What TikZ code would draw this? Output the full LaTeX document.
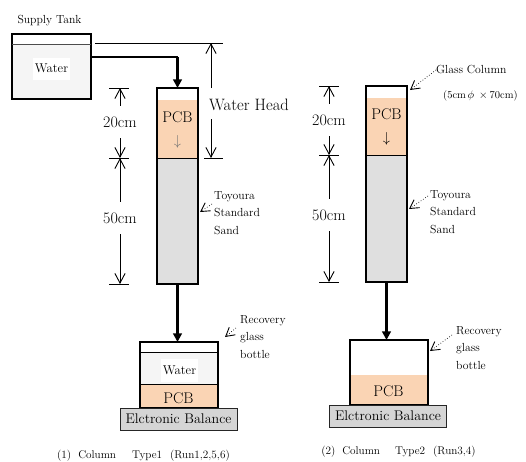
\documentclass[tikz,border=0pt]{standalone}
\usepackage{amsmath,amssymb}
\usepackage{tikz}
\usetikzlibrary{arrows.meta}
\definecolor{pcbfill}{HTML}{FAD4B4}
\newcommand{\fsize}[2]{\fontsize{#1}{#2}\selectfont}

\begin{document}
\begin{tikzpicture}[x=1pt,y=-1pt,
  wall/.style={draw, line width=2pt, inner sep=0pt, outer sep=0pt},
  fillbox/.style={inner sep=0pt, outer sep=0pt},
  bal/.style={draw=black!85, fill=gray!33, line width=0.9pt, inner sep=0pt, outer sep=0pt, minimum width=117pt, minimum height=22pt, font=\fsize{14}{15}},
  big/.style={font=\fsize{15.5}{16}, inner sep=1pt},
  dim/.style={font=\fsize{16}{17}, inner sep=0pt, minimum height=32pt},
  note/.style={font=\fsize{11.7}{17.5}, inner sep=0pt, align=left, anchor=west},
  small/.style={font=\fsize{12.7}{13}},
  pipe/.style={-{Triangle[length=3mm,width=3mm]}, line width=2.2pt},
  arr/.style={-{Straight Barb[length=3.4mm,width=3.6mm]}, line width=0.9pt},
  lead/.style={-{Straight Barb[length=3mm,width=3.4mm,line width=0.9pt]}, dotted, line width=0.7pt},
  tick/.style={line width=0.8pt}]
\useasboundingbox (0,0) rectangle (526,461);
% supply tank
\node[fillbox, fill=gray!8, minimum width=79pt, minimum height=55pt] (wTank) at (51.5,71.5) {};
\node[wall, minimum width=79pt, minimum height=65pt] (tank) at (51.5,66.5) {};
\node[fillbox, small, fill=white, minimum width=37pt, minimum height=22pt] (wTankLab) at (51.5,68.5) {Water};
\node[font=\fsize{11.7}{12}, inner sep=0pt] (tankLab) at (49.5,21) {Supply Tank};
\draw[line width=0.8pt, black!70] (wTank.north west) -- (wTank.north east);
% column 1
\node[fillbox, fill=pcbfill, minimum width=41pt, minimum height=58pt] (pcbA) at (177.5,129) {};
\node[fillbox, fill=gray!25, minimum width=41pt, minimum height=126pt] (sandA) at (177.5,221) {};
\node[wall, minimum width=41pt, minimum height=196pt] (colA) at (177.5,186) {};
\draw[line width=0.7pt] (sandA.north west) -- (sandA.north east);
\node[big] (pcbAlab) at (177.5,117) {PCB};
\node[big, text=black!55] (downA) at (177.5,142) {$\downarrow$};
\coordinate (elbow) at (177.5,57);
\draw[line width=2.2pt] (tank.east |- elbow) -- (elbow);
\draw[pipe] (elbow) -- (colA.north);
% water head
\coordinate (headTopL) at (95,43);
\coordinate (headTopR) at (223,43);
\coordinate (headBotL) at (204,158);
\coordinate (headBotR) at (223,158);
\coordinate (headUp) at (211,88);
\coordinate (headDn) at (211,119);
\draw[tick] (headTopL) -- (headTopR);
\draw[tick] (headBotL) -- (headBotR);
\draw[arr] (headUp) -- (headUp |- headTopL);
\draw[arr] (headDn) -- (headDn |- headBotL);
\node[font=\fsize{16.5}{17}, inner sep=0pt] (headLab) at (249,105) {Water Head};
% dimensions 1
\coordinate (tAa) at (109,88);  \coordinate (tAb) at (129,88);
\coordinate (tBa) at (109,158); \coordinate (tBb) at (129,158);
\coordinate (tCa) at (109,284); \coordinate (tCb) at (129,284);
\draw[tick] (tAa) -- (tAb); \draw[tick] (tBa) -- (tBb); \draw[tick] (tCa) -- (tCb);
\node[dim] (d20A) at (120,122) {20cm};
\node[dim] (d50A) at (120,218) {50cm};
\draw[arr] (d20A.north) -- (d20A.north |- tAa);
\draw[arr] (d20A.south) -- (d20A.south |- tBa);
\draw[arr] (d50A.north) -- (d50A.north |- tBa);
\draw[arr] (d50A.south) -- (d50A.south |- tCa);
\node[note] (sandAlab) at (214,213) {Toyoura\\Standard\\Sand};
\coordinate (sandAfrom) at (212,204);
\coordinate (sandAto) at (200,212);
\draw[lead] (sandAfrom) -- (sandAto);
% bottle 1
\node[fillbox, fill=gray!8, minimum width=78pt, minimum height=32pt] (wBotA) at (179,368) {};
\node[fillbox, fill=pcbfill, minimum width=78pt, minimum height=24pt] (pcbBotA) at (179,396) {};
\node[wall, minimum width=78pt, minimum height=66pt] (botA) at (179,375) {};
\draw[line width=0.8pt] (wBotA.north west) -- (wBotA.north east);
\draw[line width=0.8pt] (pcbBotA.north west) -- (pcbBotA.north east);
\node[fillbox, small, fill=white, minimum width=37pt, minimum height=23pt] (wBotAlab) at (179.5,370) {Water};
\node[big] (pcbBotAlab) at (178.5,398) {PCB};
\node[bal] (balA) at (178.5,419) {Elctronic Balance\hspace{6pt}};
\draw[pipe] (colA.south) -- (colA.south |- botA.north);
\node[note] (recALab) at (240,337) {Recovery\\glass\\bottle};
\coordinate (recAfrom) at (236,328);
\coordinate (recAto) at (225,337);
\draw[lead] (recAfrom) -- (recAto);
\node[font=\fsize{11.2}{12}, inner sep=0pt] (capA) at (143.5,456) {(1)\hspace{7pt}Column\hspace{16pt}Type1\hspace{8pt}(Run1,2,5,6)};
% column 2
\node[fillbox, fill=pcbfill, minimum width=41pt, minimum height=57pt] (pcbB) at (386.5,126.5) {};
\node[fillbox, fill=gray!25, minimum width=41pt, minimum height=127pt] (sandB) at (386.5,218.5) {};
\node[wall, minimum width=41pt, minimum height=196pt] (colB) at (386.5,184) {};
\draw[line width=0.7pt] (sandB.north west) -- (sandB.north east);
\node[big] (pcbBlab) at (386.5,114) {PCB};
\node[big] (downB) at (386.5,139) {$\downarrow$};
% dimensions 2
\coordinate (tDa) at (319,86);  \coordinate (tDb) at (339,86);
\coordinate (tEa) at (319,155); \coordinate (tEb) at (339,155);
\coordinate (tFa) at (319,282); \coordinate (tFb) at (339,282);
\draw[tick] (tDa) -- (tDb); \draw[tick] (tEa) -- (tEb); \draw[tick] (tFa) -- (tFb);
\node[dim] (d20B) at (329,120) {20cm};
\node[dim] (d50B) at (329,215) {50cm};
\draw[arr] (d20B.north) -- (d20B.north |- tDa);
\draw[arr] (d20B.south) -- (d20B.south |- tEa);
\draw[arr] (d50B.north) -- (d50B.north |- tEa);
\draw[arr] (d50B.south) -- (d50B.south |- tFa);
\node[note] (glassLab) at (436,70) {Glass Column};
\node[note, font=\fsize{10.5}{12}] (sizeLab) at (443,96) {(5cm\,$\phi$\hspace{5pt}$\times$\hspace{2pt}70cm)};
\coordinate (glassTo) at (410,90);
\draw[lead] (glassLab.west) -- (glassTo);
\node[note] (sandBlab) at (430,212) {Toyoura\\Standard\\Sand};
\coordinate (sandBfrom) at (428,196);
\coordinate (sandBto) at (409,209);
\draw[lead] (sandBfrom) -- (sandBto);
% bottle 2
\node[fillbox, fill=pcbfill, minimum width=78pt, minimum height=30pt] (pcbBotB) at (388.5,390) {};
\node[wall, minimum width=78pt, minimum height=65pt] (botB) at (388.5,372.5) {};
\node[big] (pcbBotBlab) at (388.5,391) {PCB};
\node[bal] (balB) at (388,416) {Elctronic Balance};
\draw[pipe] (colB.south) -- (colB.south |- botB.north);
\node[note] (recBLab) at (456,348) {Recovery\\glass\\bottle};
\coordinate (recBfrom) at (452,335);
\coordinate (recBto) at (430,351);
\draw[lead] (recBfrom) -- (recBto);
\node[font=\fsize{11.2}{12}, inner sep=0pt] (capB) at (398.5,452) {(2)\hspace{7pt}Column\hspace{15pt}Type2\hspace{8pt}(Run3,4)};
\end{tikzpicture}
\end{document}
